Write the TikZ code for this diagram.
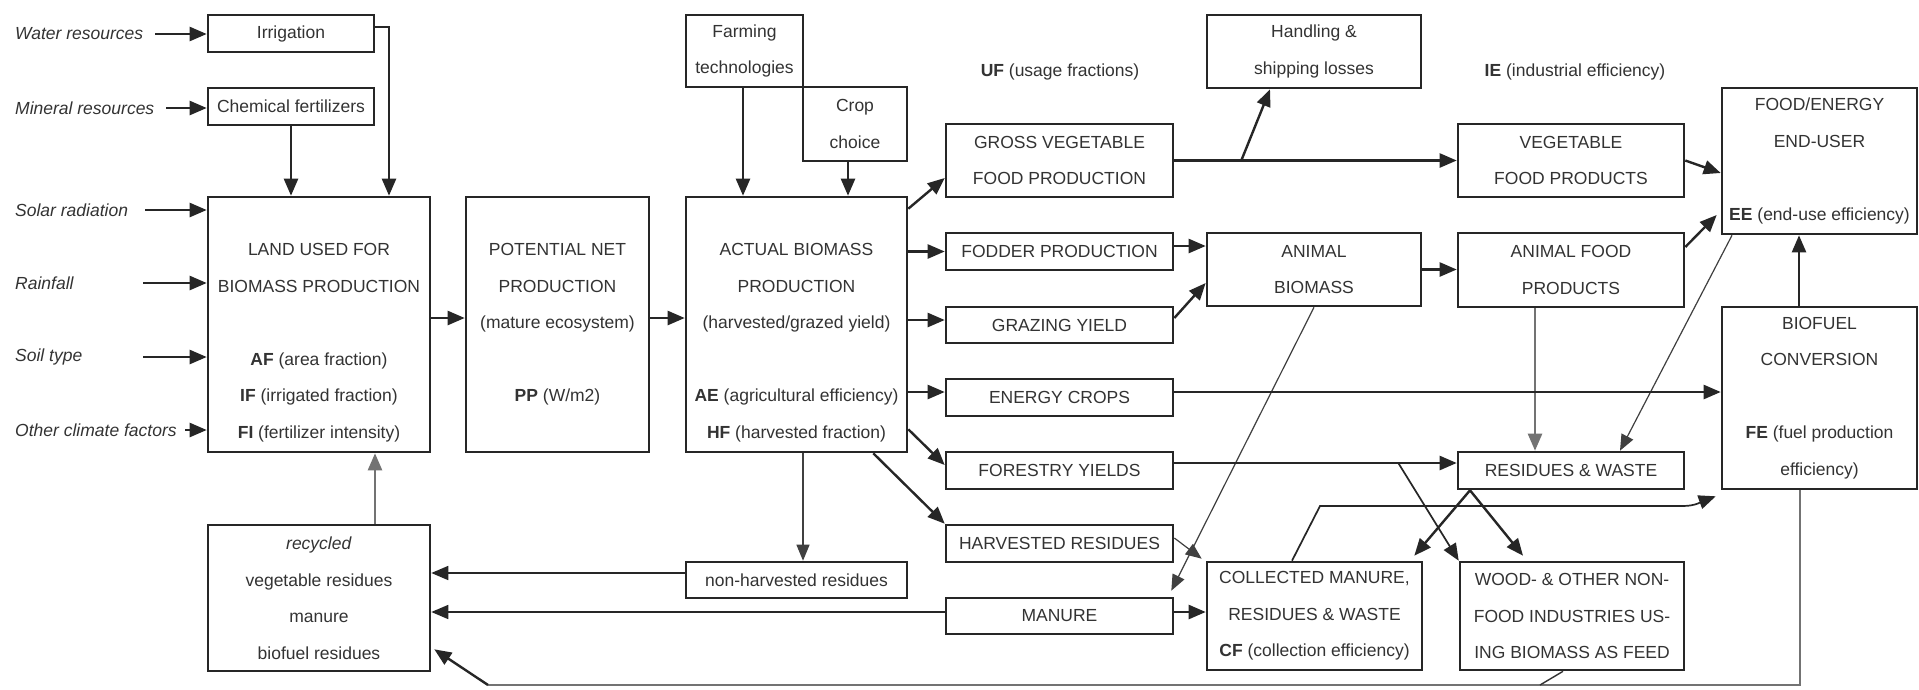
\documentclass[tikz,border=0pt]{standalone}
\usepackage{fontspec}
\setmainfont{Liberation Sans}
\usetikzlibrary{arrows.meta,calc}
\newcommand{\dgfont}{\fontsize{17.5}{36.5}\selectfont}
\begin{document}
\begin{tikzpicture}[x=1pt,y=-1pt,
  box/.style={draw=black!85, line width=2.6pt, inner sep=0pt, align=center, text=black!80, font=\dgfont},
  lab/.style={inner sep=0pt, text=black!80, font=\dgfont\itshape, anchor=west},
  caption/.style={inner sep=0pt, text=black!80, font=\dgfont},
  arr/.style={draw=black!85, line width=2.4pt, -{Triangle[length=17pt,width=14pt]}},
  marr/.style={draw=black!85, line width=1.7pt, -{Triangle[length=17pt,width=14pt]}},
  garr/.style={draw=black!55, line width=2.4pt, -{Triangle[length=17pt,width=14pt]}},
  tarr/.style={draw=black!75, line width=1.2pt, -{Triangle[length=16pt,width=13pt]}},
  gline/.style={draw=black!55, line width=2.4pt},
  tline/.style={draw=black!80, line width=1.4pt},
]
\fill[white] (0,0) rectangle (1919,689);
\useasboundingbox (0,0) rectangle (1919,689);

% left labels
\node[lab] (water) at (15,34) {Water resources};
\node[lab] (mineral) at (15,108) {Mineral resources};
\node[lab] (solar) at (15,210) {Solar radiation};
\node[lab] (rain) at (15,283) {Rainfall};
\node[lab] (soil) at (15,357) {Soil type};
\node[lab] (other) at (15,430) {Other climate factors};

% boxes
\node[box, minimum width=166pt, minimum height=37pt] (irr) at (291,33.5) {Irrigation};
\node[box, minimum width=166pt, minimum height=37pt] (chem) at (291,106.5) {Chemical fertilizers};
\node[box, minimum width=222pt, minimum height=255pt] (land) at (319,324.5)
  {\vphantom{L}\\LAND USED FOR\\BIOMASS PRODUCTION\\~\\\textbf{AF} (area fraction)\\\textbf{IF} (irrigated fraction)\\\textbf{FI} (fertilizer intensity)};
\node[box, minimum width=183pt, minimum height=255pt] (pp) at (557.5,324.5)
  {POTENTIAL NET\\PRODUCTION\\(mature ecosystem)\\~\\\textbf{PP} (W/m2)};
\node[box, minimum width=221pt, minimum height=255pt] (abp) at (796.5,324.5)
  {\vphantom{L}\\ACTUAL BIOMASS\\PRODUCTION\\(harvested/grazed yield)\\~\\\textbf{AE} (agricultural efficiency)\\\textbf{HF} (harvested fraction)};
\node[box, minimum width=117pt, minimum height=72pt] (farm) at (744.5,51) {Farming\\technologies};
\node[box, minimum width=104pt, minimum height=74pt] (crop) at (855,124) {Crop\\choice};

\node[box, minimum width=227pt, minimum height=73pt] (gvfp) at (1059.5,160.5) {GROSS VEGETABLE\\FOOD PRODUCTION};
\node[box, minimum width=227pt, minimum height=37pt] (fodder) at (1059.5,251.5) {FODDER PRODUCTION};
\node[box, minimum width=227pt, minimum height=36pt] (graz) at (1059.5,325) {GRAZING YIELD};
\node[box, minimum width=227pt, minimum height=37pt] (energy) at (1059.5,397.5) {ENERGY CROPS};
\node[box, minimum width=227pt, minimum height=37pt] (forest) at (1059.5,470.5) {FORESTRY YIELDS};
\node[box, minimum width=227pt, minimum height=37pt] (hr) at (1059.5,543.5) {HARVESTED RESIDUES};
\node[box, minimum width=221pt, minimum height=36pt] (nhr) at (796.5,580) {non-harvested residues};
\node[box, minimum width=227pt, minimum height=36pt] (manure) at (1059.5,616) {MANURE};
\node[box, minimum width=222pt, minimum height=146pt] (rec) at (319,598)
  {\textit{recycled}\\vegetable residues\\manure\\biofuel residues};

\node[box, minimum width=214pt, minimum height=73pt] (hsl) at (1314,51.5) {Handling \&\\shipping losses};
\node[box, minimum width=214pt, minimum height=73pt] (ab) at (1314,269.5) {ANIMAL\\BIOMASS};
\node[box, minimum width=215pt, minimum height=108pt] (coll) at (1314.5,616)
  {COLLECTED MANURE,\\RESIDUES \& WASTE\\\textbf{CF} (collection efficiency)};

\node[box, minimum width=226pt, minimum height=73pt] (vfp) at (1571,160.5) {VEGETABLE\\FOOD PRODUCTS};
\node[box, minimum width=226pt, minimum height=74pt] (afp) at (1571,270) {ANIMAL FOOD\\PRODUCTS};
\node[box, minimum width=226pt, minimum height=37pt] (rw) at (1571,470.5) {RESIDUES \& WASTE};
\node[box, minimum width=224pt, minimum height=108pt] (wood) at (1572,616)
  {WOOD- \& OTHER NON-\\FOOD INDUSTRIES US-\\ING BIOMASS AS FEED};

\node[box, minimum width=195pt, minimum height=146pt] (feeu) at (1819.5,161)
  {FOOD/ENERGY\\END-USER\\~\\\textbf{EE} (end-use efficiency)};
\node[box, minimum width=195pt, minimum height=182pt] (bc) at (1819.5,398)
  {BIOFUEL\\CONVERSION\\~\\\textbf{FE} (fuel production\\efficiency)};

\node[caption] (uf) at (1060,72) {\textbf{UF} (usage fractions)};
\node[caption] (ie) at (1575,72) {\textbf{IE} (industrial efficiency)};

% left inputs
\coordinate (waterS) at (155,34);
\coordinate (mineralS) at (166,108);
\coordinate (solarS) at (145,210);
\coordinate (rainS) at (143,283);
\coordinate (soilS) at (143,357);
\coordinate (otherS) at (185,430);
\draw[arr] (waterS) -- (waterS -| irr.west);
\draw[arr] (mineralS) -- (mineralS -| chem.west);
\draw[arr] (solarS) -- (solarS -| land.west);
\draw[arr] (rainS) -- (rainS -| land.west);
\draw[arr] (soilS) -- (soilS -| land.west);
\draw[arr] (otherS) -- (otherS -| land.west);

\coordinate (irrE) at ([yshift=6.5pt]irr.east);
\coordinate (landIn) at ([xshift=70pt]land.north);
\draw[arr] (irrE) -| (landIn);
\draw[arr] (chem.south) -- (chem.south |- land.north);

\coordinate (landE) at ([yshift=6.5pt]land.east);
\draw[arr] (landE) -- (landE -| pp.west);
\coordinate (ppE) at ([yshift=6.5pt]pp.east);
\draw[arr] (ppE) -- (ppE -| abp.west);

\coordinate (farmS) at ([xshift=-1.5pt]farm.south);
\draw[arr] (farmS) -- (farmS |- abp.north);
\coordinate (cropS) at ([xshift=-7pt]crop.south);
\draw[arr] (cropS) -- (cropS |- abp.north);

% ABP outputs
\draw[arr] ([yshift=-13pt]abp.north east) -- ([yshift=-17.5pt]gvfp.west);
\draw[arr] (fodder.west -| abp.east) -- (fodder.west);
\coordinate (grazIn) at ([yshift=5pt]graz.west);
\draw[arr] (grazIn -| abp.east) -- (grazIn);
\coordinate (enIn) at ([yshift=5.5pt]energy.west);
\draw[arr] (enIn -| abp.east) -- (enIn);
\draw[arr] ([yshift=24pt]abp.south east) -- ([yshift=5.5pt]forest.west);
\draw[arr] ([xshift=-35pt]abp.south east) -- (hr.north west);
\coordinate (abpS) at ([xshift=6.5pt]abp.south);
\draw[tarr] (abpS) -- (abpS |- nhr.north);

% recycling
\coordinate (nhrW) at ([yshift=7pt]nhr.west);
\draw[marr] (nhrW) -- (nhrW -| rec.east);
\coordinate (manW) at ([yshift=4pt]manure.west);
\draw[marr] (manW) -- (manW -| rec.east);
\coordinate (recN) at ([xshift=56pt]rec.north);
\draw[garr] (recN) -- (recN |- land.south);

% middle
\coordinate (manE) at ([yshift=4pt]manure.east);
\draw[arr] (manE) -- (manE -| coll.west);
\draw[tarr] ([yshift=5.5pt]hr.east) -- ([xshift=-4pt,yshift=2pt]coll.north west);
\draw[tarr] (ab.south) -- ([xshift=-3pt,yshift=6pt]manure.north east);
\coordinate (fodE) at ([yshift=5.5pt]fodder.east);
\draw[arr] (fodE) -- (fodE -| ab.west);
\draw[arr] ([yshift=7pt]graz.east) -- ([yshift=-13.5pt]ab.west);
\draw[arr] (gvfp.east) -- (vfp.west);
\coordinate (hslBr) at ([xshift=67pt]gvfp.east);
\draw[arr] (hslBr) -- ([xshift=-44pt]hsl.south);

% right
\draw[arr] (vfp.east) -- ([yshift=-12pt]feeu.west);
\draw[arr] ([yshift=23pt]afp.east) -- ([xshift=-4pt,yshift=-54pt]feeu.west);
\draw[arr] (ab.east) -- (ab.east -| afp.west);
\coordinate (afpS) at ([xshift=-36pt]afp.south);
\draw[garr] (afpS) -- (afpS |- rw.north);
\draw[tarr] ([xshift=-87.5pt]feeu.south) -- ([xshift=49pt]rw.north);
\coordinate (bcN) at ([xshift=-20.5pt]bc.north);
\draw[arr] (bcN) -- (bcN |- feeu.south);
\coordinate (enE) at ([yshift=5.5pt]energy.east);
\draw[arr] (enE) -- (enE -| bc.west);
\coordinate (foE) at ([yshift=7.5pt]forest.east);
\draw[arr] (foE) -- (foE -| rw.west);
\coordinate (woodBr) at ([xshift=224pt]foE);
\draw[marr] (woodBr) -- (wood.north west);
\coordinate (rwS) at ([xshift=-101pt]rw.south);
\draw[arr] (rwS) -- ([xshift=-9pt,yshift=5pt]coll.north east);
\draw[arr] (rwS) -- ([xshift=-49pt,yshift=5pt]wood.north);
\coordinate (collN) at ([xshift=-22.5pt]coll.north);
\coordinate (cb1) at (1320,506);
\coordinate (cb2) at (1683,506);
\draw[marr] (collN) -- (cb1) -- (cb2) to[out=0,in=200] ([xshift=-5pt,yshift=-6pt]bc.south west);

% bottom return
\coordinate (bcS) at ([xshift=-19.5pt]bc.south);
\coordinate (botL) at (488,685);
\draw[gline] (bcS) |- (botL);
\draw[arr] (botL) -- ([xshift=3pt,yshift=23pt]rec.south east);
\coordinate (woodJ) at (1540,685);
\draw[tline] ([xshift=-9pt]wood.south) -- (woodJ);
\end{tikzpicture}
\end{document}
